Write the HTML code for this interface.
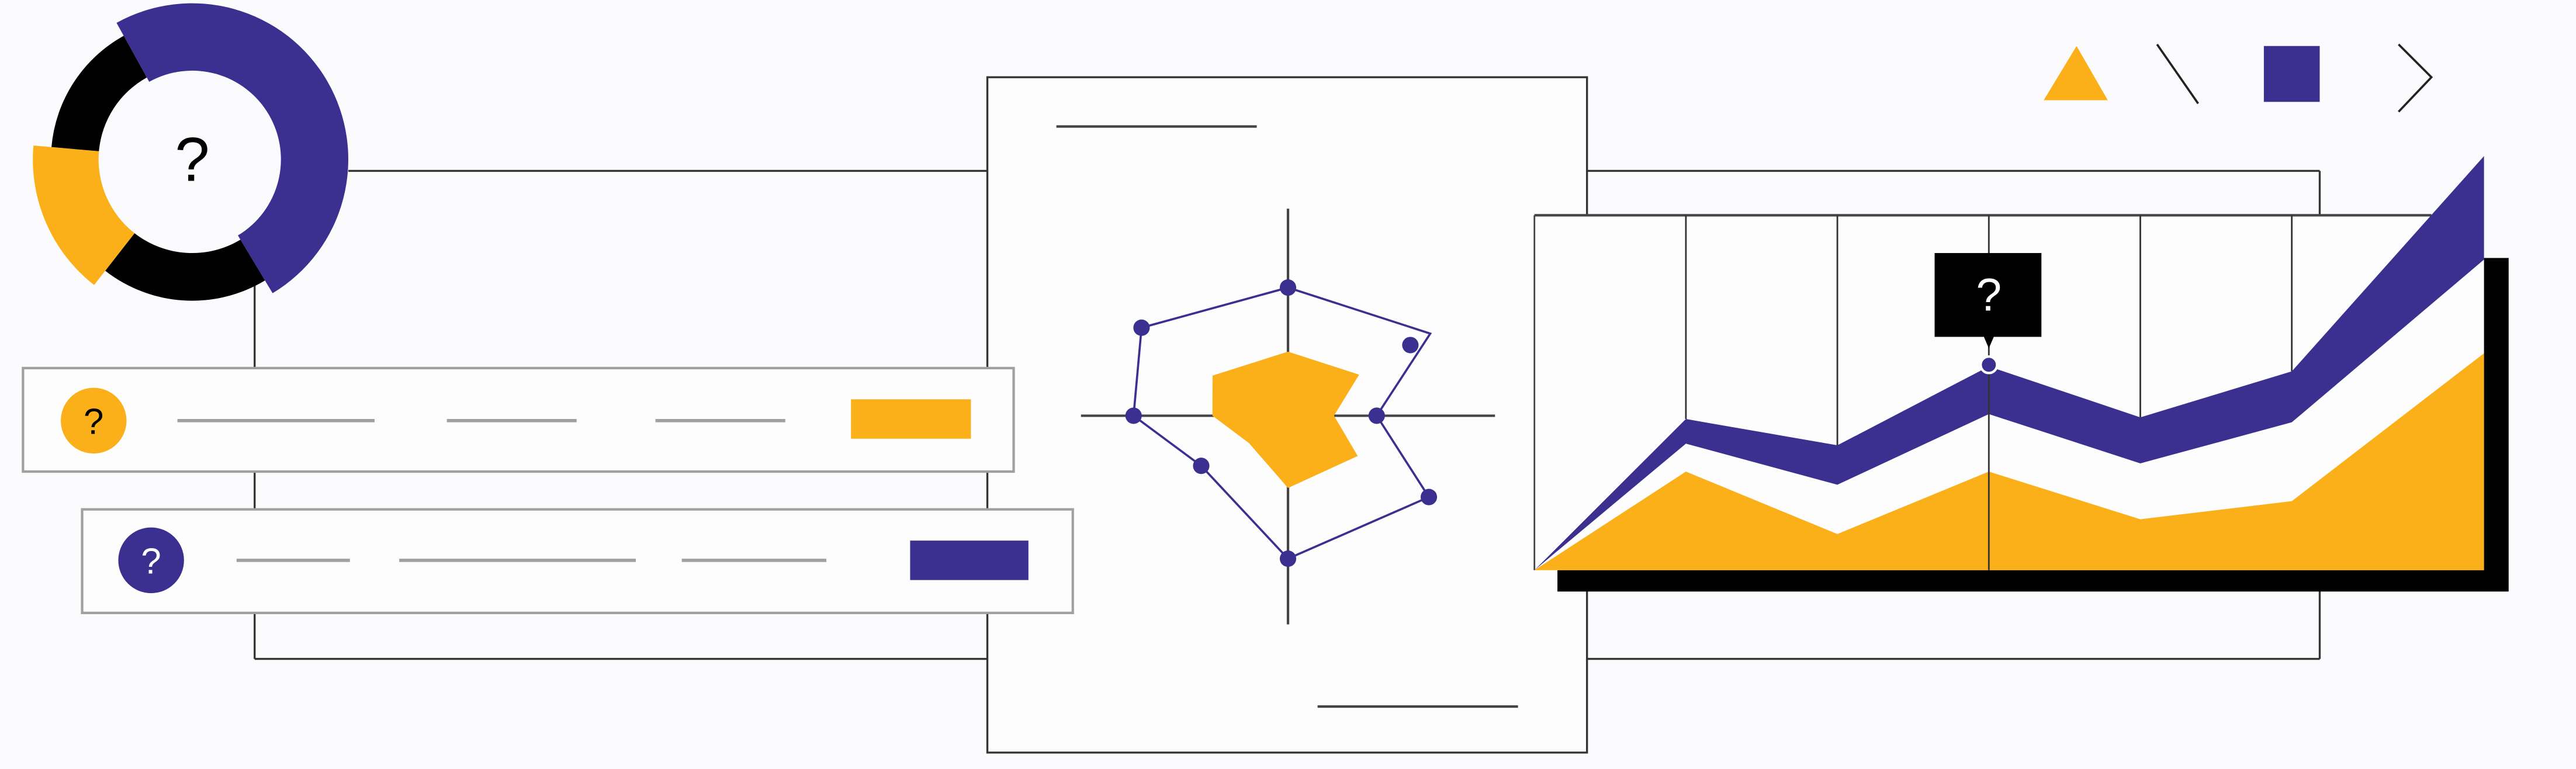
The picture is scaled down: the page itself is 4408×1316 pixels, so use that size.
<!DOCTYPE html>
<html><head><meta charset="utf-8"><style>
html,body{margin:0;padding:0;background:#fbfbfd;}
svg{display:block;}
text{font-family:"Liberation Sans",sans-serif;}
</style></head><body>
<svg id="s" width="4408" height="1316" viewBox="0 0 1568 468" preserveAspectRatio="none">
<rect width="1568" height="468" fill="#fbfbfd"/>
<g id="bg" stroke="#333" stroke-width="1.2" fill="none">
<line x1="212" y1="104" x2="601" y2="104"/><line x1="966" y1="104" x2="1412" y2="104"/>
<line x1="155" y1="401" x2="601" y2="401"/><line x1="966" y1="401" x2="1412" y2="401"/>
<line x1="155" y1="170" x2="155" y2="401"/><line x1="1412" y1="104" x2="1412" y2="131"/><line x1="1412" y1="347" x2="1412" y2="401"/>
</g>
<g id="donut"></g>
<text x="117" y="110" font-size="38" text-anchor="middle" fill="#000">?</text>

<g>
<rect x="601" y="47" width="365" height="411" fill="#fdfdfe" stroke="#333" stroke-width="1.2"/>
<line x1="643" y1="77" x2="765" y2="77" stroke="#444" stroke-width="1.5"/>
<line x1="802" y1="430" x2="924" y2="430" stroke="#444" stroke-width="1.5"/>
</g>

<g>
<rect x="14" y="224" width="603" height="63" fill="#fdfdfe" stroke="#a0a0a0" stroke-width="1.5"/>
<circle cx="57" cy="256" r="20" fill="#fbb01a"/>
<text x="57" y="264" font-size="22" text-anchor="middle" fill="#000">?</text>
<g stroke="#a0a0a0" stroke-width="2"><line x1="108" y1="256" x2="228" y2="256"/><line x1="272" y1="256" x2="351" y2="256"/><line x1="399" y1="256" x2="478" y2="256"/></g>
<rect x="518" y="243" width="73" height="24" fill="#fbb01a"/>
</g>
<g>
<rect x="50" y="310" width="603" height="63" fill="#fdfdfe" stroke="#a0a0a0" stroke-width="1.5"/>
<circle cx="92" cy="341" r="20" fill="#3b2f8f"/>
<text x="92" y="349" font-size="22" text-anchor="middle" fill="#fff">?</text>
<g stroke="#a0a0a0" stroke-width="2"><line x1="144" y1="341" x2="213" y2="341"/><line x1="243" y1="341" x2="387" y2="341"/><line x1="415" y1="341" x2="503" y2="341"/></g>
<rect x="554" y="329" width="72" height="24" fill="#3b2f8f"/>
</g>
<g id="radar"></g>

<g>
<rect x="948" y="157" width="579" height="203" fill="#000"/>
<rect x="934" y="131" width="578" height="216" fill="#fdfdfe"/>
<line x1="934" y1="131" x2="1480" y2="131" stroke="#444" stroke-width="1.5"/>
<line x1="934" y1="131" x2="934" y2="347" stroke="#444" stroke-width="1"/>
<g id="area"></g>
</g>
<g>
<polygon points="1244,61 1264,28 1283,61" fill="#fbb01a"/>
<line x1="1313" y1="27" x2="1338" y2="63" stroke="#222" stroke-width="1.3"/>
<rect x="1378" y="28" width="34" height="34" fill="#3b2f8f"/>
<polyline points="1460,27 1480,47 1460,68" fill="none" stroke="#222" stroke-width="1.3"/>
</g>
</svg>
<script>
const NS="http://www.w3.org/2000/svg";
function mk(tag,attrs,parent){const e=document.createElementNS(NS,tag);for(const k in attrs)e.setAttribute(k,attrs[k]);parent.appendChild(e);return e;}
// donut data
const donutStarts=[-119,59,128,185];
const donutEnds=[59,128,185,241];
const donutOuter=[95,86,97,86];
const donutColors=["#3b2f8f","#000","#fbb01a","#000"];
const donutInner=[54,57,57,57];
// radar data
const radarValues=[78,100,54,99,87,61,94,104];
const radarAngles=[-90,-30,0,30,90,150,180,211];
const innerValues=[39,50,28,49,44,29,46,52];
const innerAngles=[-90,-30,0,30,90,145,180,208];
// area chart data
const areaCats=[0,1,2,3,4,5,6];
const purpleTop=[0,92,76,124,93,121,252];
const purpleBottom=[0,77,52,95,65,90,189];
const yellowTop=[0,60,22,60,31,42,132];

const dg=document.getElementById('donut'),cx=117,cy=97;
function pt(r,a){const t=a*Math.PI/180;return [cx+r*Math.cos(t),cy+r*Math.sin(t)];}
for(let i=0;i<donutStarts.length;i++){
 const a0=donutStarts[i],a1=donutEnds[i],R=donutOuter[i],r=donutInner[i];
 const p0=pt(R,a0),p1=pt(R,a1),p2=pt(r,a1),p3=pt(r,a0);const lg=(a1-a0)>180?1:0;
 const p=mk('path',{d:`M${p0}A${R},${R} 0 ${lg} 1 ${p1}L${p2}A${r},${r} 0 ${lg} 0 ${p3}Z`,fill:donutColors[i]},dg);
 
 
}
const rg=document.getElementById('radar'),rx=784,ry=253;
const ax1=mk('line',{x1:784,y1:127,x2:784,y2:380,stroke:'#444','stroke-width':1.5},rg);


const ax2=mk('line',{x1:658,y1:253,x2:910,y2:253,stroke:'#444','stroke-width':1.5},rg);


function rp(v,a){const t=a*Math.PI/180;return [rx+v*Math.cos(t),ry+v*Math.sin(t)];}
const inn=innerValues.map((v,i)=>rp(v,innerAngles[i]).join(',')).join(' ');
const yp=mk('polygon',{points:inn,fill:'#fbb01a'},rg);


const outer=radarValues.map((v,i)=>rp(v,radarAngles[i]));
const pl=mk('polygon',{points:outer.map(p=>p.join(',')).join(' '),fill:'none',stroke:'#3b2f8f','stroke-width':1.3},rg);


outer.forEach((p,i)=>{let q=p;if(i==1)q=rp(radarValues[i]-14,radarAngles[i]);
 const c=mk('circle',{cx:q[0],cy:q[1],r:5,fill:'#3b2f8f'},rg);
 
 });

const ag=document.getElementById('area');
function xs(i){return i<6?934+i*92.2:1512;}
const Y=v=>347-v;
function band(top,bot){let d='M'+top.map((v,i)=>xs(areaCats[i])+','+Y(v)).join('L');
 for(let i=bot.length-1;i>=0;i--)d+='L'+xs(areaCats[i])+','+Y(bot[i]);return d+'Z';}
const zeros=areaCats.map(()=>0);
const pb=mk('path',{d:band(purpleTop,purpleBottom),fill:'#3b2f8f'},ag);


const yb=mk('path',{d:band(yellowTop,zeros),fill:'#fbb01a'},ag);


for(let i=1;i<6;i++){const g=mk('line',{x1:xs(i),y1:131,x2:xs(i),y2:i==3?347:Y(purpleTop[i]),stroke:'#333','stroke-width':1},ag);
 
 }
const hi=3;
const tip=mk('rect',{x:xs(hi)-33,y:154,width:65,height:51,fill:'#000'},ag);


const tt=mk('text',{x:xs(hi),y:189,'font-size':28,'text-anchor':'middle',fill:'#fff'},ag);tt.textContent='?';


const tp=mk('polygon',{points:`${xs(hi)-3},205 ${xs(hi)+3},205 ${xs(hi)},212`,fill:'#000'},ag);


const hp=mk('circle',{cx:xs(hi),cy:Y(purpleTop[hi])-1,r:5,fill:'#3b2f8f',stroke:'#fff','stroke-width':1.5},ag);


</script>
</body></html>
